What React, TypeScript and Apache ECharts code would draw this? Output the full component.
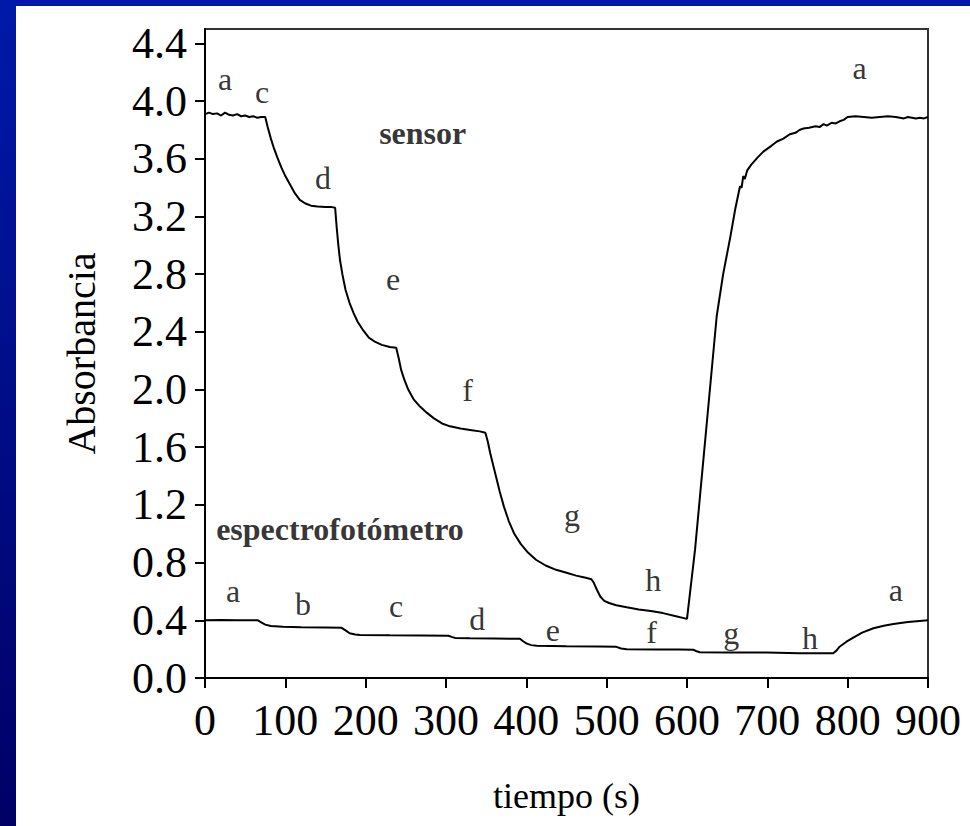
import React, { useEffect, useRef } from "react";
import * as echarts from "echarts";

// time (s), absorbance — sensor
const sensorX = [0, 5, 10, 15, 20, 25, 30, 35, 40, 45, 50, 55, 60, 65, 70, 75,
  78, 82, 86, 90, 95, 100, 106, 112, 118, 125, 132, 140, 150, 158, 162,
  164, 166, 168, 171, 175, 180, 185, 190, 197, 204, 212, 220, 230, 238,
  241, 244, 248, 253, 260, 268, 276, 285, 295, 305, 318, 330, 342, 349,
  352, 355, 359, 363, 367, 372, 378, 385, 393, 402, 412, 424, 437, 450, 462, 474, 481,
  484, 488, 492, 497, 503, 512, 525, 540, 555, 570, 585, 600,
  610, 637, 645, 654, 660, 666, 668, 670, 672, 675, 680, 688, 695, 705, 712, 720, 728, 735, 740, 745,
  752, 760, 765, 770, 774, 780, 785, 790, 795, 800, 810, 820, 830, 840, 850, 860, 865, 870, 875, 880, 885, 890, 895, 900];
const sensorY = [3.91, 3.92, 3.91, 3.915, 3.9, 3.92, 3.905, 3.9, 3.91, 3.895, 3.9, 3.89, 3.895, 3.885, 3.89, 3.89,
  3.82, 3.74, 3.67, 3.61, 3.54, 3.48, 3.42, 3.36, 3.315, 3.29, 3.275, 3.27, 3.265, 3.265, 3.26,
  3.12, 3.0, 2.9, 2.8, 2.69, 2.6, 2.53, 2.47, 2.41, 2.36, 2.33, 2.31, 2.295, 2.29,
  2.22, 2.14, 2.07, 2.0, 1.93, 1.88, 1.84, 1.8, 1.765, 1.745, 1.73, 1.72, 1.71, 1.7,
  1.64, 1.56, 1.47, 1.38, 1.29, 1.19, 1.09, 1.0, 0.93, 0.87, 0.82, 0.78, 0.75, 0.73, 0.71, 0.695, 0.685,
  0.66, 0.61, 0.565, 0.535, 0.52, 0.505, 0.49, 0.475, 0.465, 0.45, 0.43, 0.41,
  0.89, 2.51, 2.8, 3.06, 3.25, 3.41, 3.4, 3.48, 3.46, 3.52, 3.56, 3.61, 3.65, 3.69, 3.72, 3.74, 3.77, 3.78, 3.8, 3.81,
  3.815, 3.825, 3.82, 3.84, 3.83, 3.85, 3.845, 3.86, 3.87, 3.89, 3.895, 3.89, 3.885, 3.89, 3.895, 3.89, 3.885, 3.88, 3.89, 3.885, 3.88, 3.885, 3.88, 3.89];

// time (s), absorbance — espectrofotómetro
const specX = [0, 20, 40, 60, 66, 70, 75, 82, 97, 120, 150, 170, 175, 180, 187, 193, 230, 270, 303, 307, 311, 330, 360, 392,
  396, 400, 406, 413, 450, 490, 512, 518, 525, 560, 590, 608, 612, 616, 650, 699, 740, 782, 786, 790, 798, 807, 818, 832, 845, 857, 875, 900];
const specY = [0.4, 0.402, 0.4, 0.4, 0.4, 0.385, 0.37, 0.36, 0.356, 0.352, 0.35, 0.348, 0.33, 0.31, 0.302, 0.298, 0.296, 0.295, 0.293, 0.285, 0.278, 0.275, 0.274, 0.272,
  0.255, 0.24, 0.228, 0.223, 0.22, 0.218, 0.216, 0.205, 0.2, 0.198, 0.198, 0.196, 0.185, 0.178, 0.177, 0.176, 0.172, 0.172, 0.19, 0.217, 0.25, 0.28, 0.315, 0.345, 0.362, 0.375, 0.388, 0.4];

// annotation letters [x, y, text]
const letterX = [25, 71, 147, 234, 327, 457, 558, 815, 35, 122, 238, 339, 433, 556, 655, 753, 860];
const letterY = [4.15, 4.06, 3.47, 2.77, 2.0, 1.13, 0.68, 4.23, 0.6, 0.51, 0.5, 0.41, 0.33, 0.32, 0.31, 0.28, 0.61];
const letterText = ["a", "c", "d", "e", "f", "g", "h", "a", "a", "b", "c", "d", "e", "f", "g", "h", "a"];

const boldX = [271, 168];
const boldY = [3.78, 1.03];
const boldText = ["sensor", "espectrofotómetro"];

const yTicks = [0, 0.4, 0.8, 1.2, 1.6, 2.0, 2.4, 2.8, 3.2, 3.6, 4.0, 4.4];
const xTicks = [0, 100, 200, 300, 400, 500, 600, 700, 800, 900];

const FONT = "'Liberation Serif', 'Times New Roman', serif";

export default function App() {
  const ref = useRef<HTMLDivElement>(null);
  useEffect(() => {
    if (!ref.current) return;
    const chart = echarts.init(ref.current, null, { renderer: "svg" });
    const sensor = sensorX.map((x, i) => [x, sensorY[i]]);
    const spec = specX.map((x, i) => [x, specY[i]]);
    const letters = letterX.map((x, i) => ({ value: [x, letterY[i]], name: letterText[i] }));
    const bolds = boldX.map((x, i) => ({ value: [x, boldY[i]], name: boldText[i] }));
    chart.setOption({
      animation: false,
      backgroundColor: "#ffffff",
      textStyle: { fontFamily: FONT },
      graphic: [
        {
          type: "rect",
          shape: { x: 0, y: 0, width: 970, height: 6 },
          style: { fill: "#0019A8" },
          z: 100,
        },
        {
          type: "rect",
          shape: { x: 0, y: 0, width: 16, height: 826 },
          style: {
            fill: new echarts.graphic.LinearGradient(0, 0, 0, 1, [
              { offset: 0, color: "#0019A8" },
              { offset: 1, color: "#000066" },
            ]),
          },
          z: 100,
        },
      ],
      grid: {
        left: 205,
        right: 42,
        top: 29,
        bottom: 148,
        show: true,
        borderColor: "#333333",
        borderWidth: 2,
        backgroundColor: "#ffffff",
      },
      xAxis: {
        type: "value",
        min: 0,
        max: 900,
        interval: 100,
        name: "tiempo (s)",
        nameLocation: "middle",
        nameGap: 100,
        nameTextStyle: { fontFamily: FONT, fontSize: 36, color: "#000" },
        axisLine: { show: true, lineStyle: { color: "#000", width: 2 } },
        axisTick: { show: true, inside: false, length: 10, lineStyle: { color: "#000", width: 2 }, customValues: xTicks },
        axisLabel: { fontFamily: FONT, fontSize: 44, color: "#000", margin: 20, customValues: xTicks },
        splitLine: { show: false },
      },
      yAxis: {
        type: "value",
        min: 0,
        max: 4.5,
        name: "Absorbancia",
        nameLocation: "middle",
        nameGap: 104,
        nameTextStyle: { fontFamily: FONT, fontSize: 40, color: "#000" },
        axisLine: { show: true, lineStyle: { color: "#000", width: 2 } },
        axisTick: { show: true, inside: false, length: 10, lineStyle: { color: "#000", width: 2 }, customValues: yTicks },
        axisLabel: {
          fontFamily: FONT,
          fontSize: 44,
          color: "#000",
          margin: 18,
          customValues: yTicks,
          formatter: (v: number) => v.toFixed(1),
        },
        splitLine: { show: false },
      },
      series: [
        {
          name: "sensor",
          type: "line",
          data: sensor,
          showSymbol: false,
          symbol: "none",
          lineStyle: { color: "#000", width: 2 },
          z: 5,
        },
        {
          name: "espectrofotómetro",
          type: "line",
          data: spec,
          showSymbol: false,
          symbol: "none",
          lineStyle: { color: "#000", width: 2 },
          z: 5,
        },
        {
          type: "scatter",
          data: letters,
          symbolSize: 0,
          silent: true,
          label: {
            show: true,
            position: "inside",
            formatter: (p: any) => p.name,
            fontFamily: FONT,
            fontSize: 32,
            color: "#000",
          },
          z: 6,
        },
        {
          type: "scatter",
          data: bolds,
          symbolSize: 0,
          silent: true,
          label: {
            show: true,
            position: "inside",
            formatter: (p: any) => p.name,
            fontFamily: FONT,
            fontSize: 32,
            fontWeight: "bold",
            color: "#000",
          },
          z: 6,
        },
      ],
    });
    return () => chart.dispose();
  }, []);
  return (
    <div
      ref={ref}
      style={{ position: "fixed", left: 0, top: 0, width: 970, height: 826, background: "#fff" }}
    />
  );
}
